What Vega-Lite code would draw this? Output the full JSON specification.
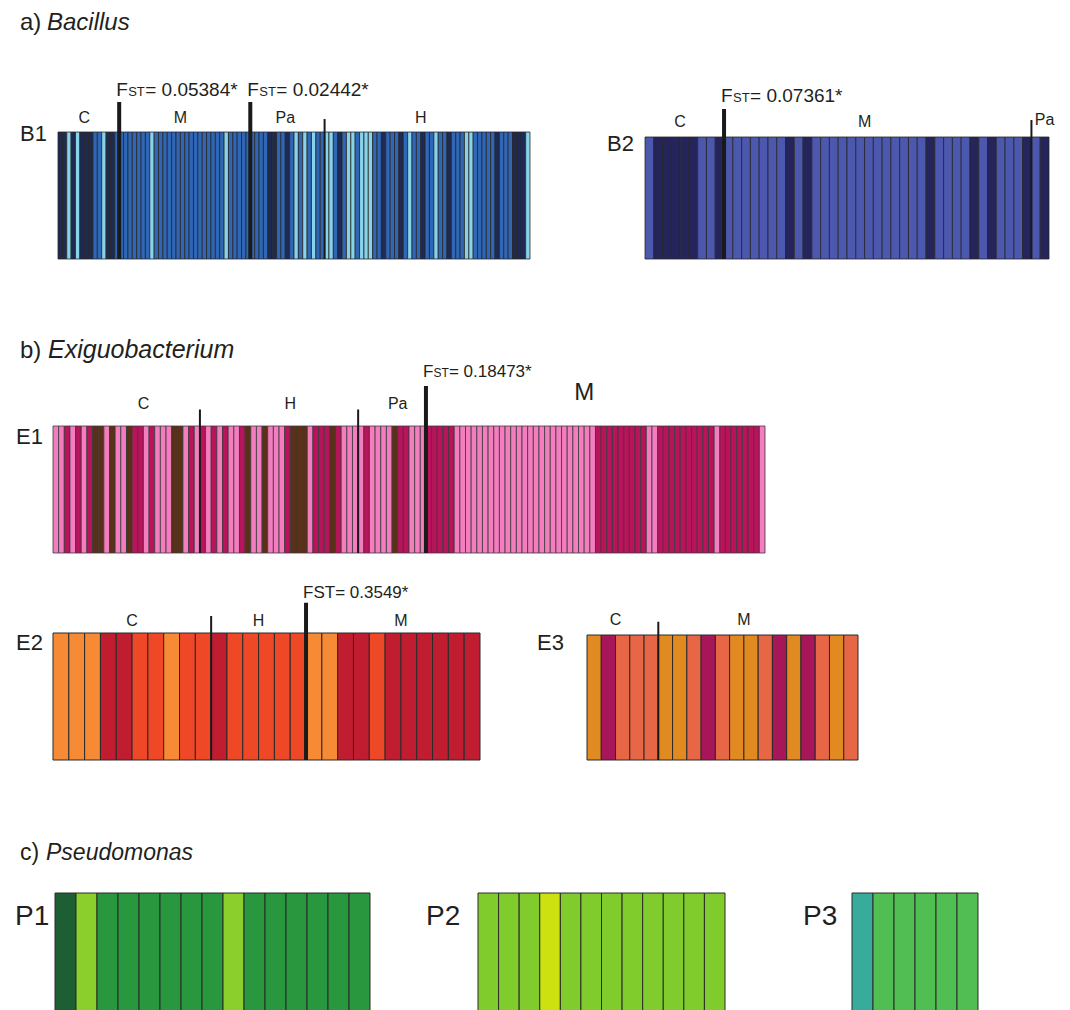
{
"$schema": "https://vega.github.io/schema/vega-lite/v6.json",
"width": 1070, "height": 1010, "padding": 0, "autosize": {"type": "none"},
"background": "white",
"config": {"view": {"stroke": null}, "text": {"font": "Liberation Sans", "fill": "#231f20"}},
"resolve": {"scale": {"x": "independent", "y": "independent", "color": "independent"}},
"layer": [
{
"layer": [
{"data": {"values": [
{"i":1,"k":"n"},{"i":2,"k":"n"},{"i":3,"k":"c"},{"i":4,"k":"n"},{"i":5,"k":"c"},{"i":6,"k":"n"},{"i":7,"k":"n"},{"i":8,"k":"n"},{"i":9,"k":"m"},{"i":10,"k":"m"},{"i":11,"k":"c"},{"i":12,"k":"n"},{"i":13,"k":"n"},{"i":14,"k":"m"},
{"i":15,"k":"m"},{"i":16,"k":"m"},{"i":17,"k":"m"},{"i":18,"k":"m"},{"i":19,"k":"m"},{"i":20,"k":"m"},{"i":21,"k":"m"},{"i":22,"k":"c"},{"i":23,"k":"m"},{"i":24,"k":"m"},{"i":25,"k":"m"},{"i":26,"k":"m"},{"i":27,"k":"m"},{"i":28,"k":"m"},{"i":29,"k":"m"},{"i":30,"k":"m"},{"i":31,"k":"m"},{"i":32,"k":"m"},{"i":33,"k":"m"},{"i":34,"k":"m"},{"i":35,"k":"m"},{"i":36,"k":"m"},{"i":37,"k":"m"},{"i":38,"k":"m"},{"i":39,"k":"c"},{"i":40,"k":"m"},{"i":41,"k":"m"},{"i":42,"k":"m"},{"i":43,"k":"m"},{"i":44,"k":"m"},
{"i":45,"k":"m"},{"i":46,"k":"m"},{"i":47,"k":"m"},{"i":48,"k":"m"},{"i":49,"k":"n"},{"i":50,"k":"n"},{"i":51,"k":"m"},{"i":52,"k":"m"},{"i":53,"k":"n"},{"i":54,"k":"m"},{"i":55,"k":"c"},{"i":56,"k":"m"},{"i":57,"k":"c"},{"i":58,"k":"m"},{"i":59,"k":"c"},{"i":60,"k":"m"},{"i":61,"k":"m"},
{"i":62,"k":"c"},{"i":63,"k":"c"},{"i":64,"k":"m"},{"i":65,"k":"n"},{"i":66,"k":"m"},{"i":67,"k":"c"},{"i":68,"k":"c"},{"i":69,"k":"m"},{"i":70,"k":"c"},{"i":71,"k":"c"},{"i":72,"k":"c"},{"i":73,"k":"m"},{"i":74,"k":"m"},{"i":75,"k":"n"},{"i":76,"k":"m"},{"i":77,"k":"m"},{"i":78,"k":"m"},{"i":79,"k":"n"},{"i":80,"k":"m"},{"i":81,"k":"c"},{"i":82,"k":"m"},{"i":83,"k":"m"},{"i":84,"k":"n"},{"i":85,"k":"m"},{"i":86,"k":"m"},{"i":87,"k":"c"},{"i":88,"k":"m"},{"i":89,"k":"m"},{"i":90,"k":"n"},{"i":91,"k":"m"},{"i":92,"k":"m"},{"i":93,"k":"m"},{"i":94,"k":"c"},{"i":95,"k":"c"},{"i":96,"k":"m"},{"i":97,"k":"m"},{"i":98,"k":"m"},{"i":99,"k":"m"},{"i":100,"k":"m"},{"i":101,"k":"n"},{"i":102,"k":"m"},{"i":103,"k":"m"},{"i":104,"k":"m"},{"i":105,"k":"n"},{"i":106,"k":"n"},{"i":107,"k":"n"},{"i":108,"k":"c"}
]},
"mark": {"type": "bar", "stroke": "#262626", "strokeWidth": 0.8},
"encoding": {
"x": {"field": "i", "type": "ordinal", "axis": null, "scale": {"range": [58, 530], "paddingInner": 0, "paddingOuter": 0}},
"y": {"datum": 1, "type": "quantitative", "axis": null, "scale": {"domain": [0, 1], "range": [259, 132], "nice": false, "zero": false}},
"y2": {"datum": 0},
"color": {"field": "k", "type": "nominal", "legend": null, "scale": {"domain": ["n", "m", "c"], "range": ["#1e2a52", "#2f67b6", "#87d3ea"]}}
}},
{"data": {"values": [{"i":14},{"i":44}]},
"mark": {"type": "rule", "strokeWidth": 4, "color": "#1a1a1a"},
"encoding": {
"x": {"field": "i", "type": "ordinal", "bandPosition": 1, "axis": null, "scale": {"range": [58, 530], "paddingInner": 0, "paddingOuter": 0}},
"y": {"datum": 0, "type": "quantitative", "axis": null, "scale": {"domain": [0, 1], "range": [259, 132], "nice": false, "zero": false}},
"y2": {"datum": 1.236}
}},
{"data": {"values": [{"i":61}]},
"mark": {"type": "rule", "strokeWidth": 2, "color": "#1a1a1a"},
"encoding": {
"x": {"field": "i", "type": "ordinal", "bandPosition": 1, "axis": null, "scale": {"range": [58, 530], "paddingInner": 0, "paddingOuter": 0}},
"y": {"datum": 0, "type": "quantitative", "axis": null, "scale": {"domain": [0, 1], "range": [259, 132], "nice": false, "zero": false}},
"y2": {"datum": 1.102}
}},
{"data": {"values": [{"i":6,"t":"C"},{"i":28,"t":"M"},{"i":52,"t":"Pa"},{"i":83,"t":"H"}]},
"mark": {"type": "text", "fontSize": 16, "align": "center", "baseline": "alphabetic"},
"encoding": {
"x": {"field": "i", "type": "ordinal", "bandPosition": 1, "axis": null, "scale": {"range": [58, 530], "paddingInner": 0, "paddingOuter": 0}},
"y": {"datum": 1.07, "type": "quantitative", "axis": null, "scale": {"domain": [0, 1], "range": [259, 132], "nice": false, "zero": false}},
"text": {"field": "t"}
}},
{"data": {"values": [{"i":14,"v":"= 0.05384*"},{"i":44,"v":"= 0.02442*"}]},
"encoding": {
"x": {"field": "i", "type": "ordinal", "bandPosition": 1, "axis": null, "scale": {"range": [58, 530], "paddingInner": 0, "paddingOuter": 0}},
"y": {"datum": 1.283, "type": "quantitative", "axis": null, "scale": {"domain": [0, 1], "range": [259, 132], "nice": false, "zero": false}}
},
"layer": [
{"mark": {"type": "text", "text": "F", "fontSize": 19, "align": "left", "baseline": "alphabetic", "dx": -3}},
{"mark": {"type": "text", "text": "ST", "fontSize": 13, "align": "left", "baseline": "alphabetic", "dx": 9}},
{"mark": {"type": "text", "fontSize": 19, "align": "left", "baseline": "alphabetic", "dx": 26}, "encoding": {"text": {"field": "v"}}}
]},
{"data": {"values": [{"t":"B1"}]},
"mark": {"type": "text", "fontSize": 22, "align": "left", "baseline": "alphabetic", "dx": -38},
"encoding": {
"x": {"datum": 1, "type": "ordinal", "bandPosition": 0, "axis": null, "scale": {"range": [58, 530], "paddingInner": 0, "paddingOuter": 0}},
"y": {"datum": 0.929, "type": "quantitative", "axis": null, "scale": {"domain": [0, 1], "range": [259, 132], "nice": false, "zero": false}},
"text": {"field": "t"}
}},
{"data": {"values": [{"t":"a)"}]},
"mark": {"type": "text", "fontSize": 24, "align": "left", "baseline": "alphabetic", "dx": -38},
"encoding": {
"x": {"datum": 1, "type": "ordinal", "bandPosition": 0, "axis": null, "scale": {"range": [58, 530], "paddingInner": 0, "paddingOuter": 0}},
"y": {"datum": 1.803, "type": "quantitative", "axis": null, "scale": {"domain": [0, 1], "range": [259, 132], "nice": false, "zero": false}},
"text": {"field": "t"}
}},
{"data": {"values": [{"t":"Bacillus"}]},
"mark": {"type": "text", "fontSize": 24, "fontStyle": "italic", "align": "left", "baseline": "alphabetic", "dx": -11},
"encoding": {
"x": {"datum": 1, "type": "ordinal", "bandPosition": 0, "axis": null, "scale": {"range": [58, 530], "paddingInner": 0, "paddingOuter": 0}},
"y": {"datum": 1.803, "type": "quantitative", "axis": null, "scale": {"domain": [0, 1], "range": [259, 132], "nice": false, "zero": false}},
"text": {"field": "t"}
}}
]
},
{
"layer": [
{"data": {"values": [
{"i":1,"k":"b"},{"i":2,"k":"d"},{"i":3,"k":"d"},{"i":4,"k":"d"},{"i":5,"k":"d"},{"i":6,"k":"d"},{"i":7,"k":"b"},{"i":8,"k":"b"},{"i":9,"k":"d"},
{"i":10,"k":"b"},{"i":11,"k":"b"},{"i":12,"k":"b"},{"i":13,"k":"b"},{"i":14,"k":"b"},{"i":15,"k":"b"},{"i":16,"k":"b"},{"i":17,"k":"d"},{"i":18,"k":"b"},{"i":19,"k":"d"},
{"i":20,"k":"b"},{"i":21,"k":"b"},{"i":22,"k":"b"},{"i":23,"k":"b"},{"i":24,"k":"b"},{"i":25,"k":"b"},{"i":26,"k":"b"},{"i":27,"k":"b"},{"i":28,"k":"b"},{"i":29,"k":"b"},{"i":30,"k":"b"},{"i":31,"k":"b"},{"i":32,"k":"b"},{"i":33,"k":"d"},
{"i":34,"k":"b"},{"i":35,"k":"b"},{"i":36,"k":"b"},{"i":37,"k":"b"},{"i":38,"k":"d"},{"i":39,"k":"b"},{"i":40,"k":"d"},{"i":41,"k":"b"},{"i":42,"k":"b"},{"i":43,"k":"b"},{"i":44,"k":"d"},{"i":45,"k":"b"},{"i":46,"k":"d"}
]},
"mark": {"type": "bar", "stroke": "#262626", "strokeWidth": 0.8},
"encoding": {
"x": {"field": "i", "type": "ordinal", "axis": null, "scale": {"range": [645, 1049], "paddingInner": 0, "paddingOuter": 0}},
"y": {"datum": 1, "type": "quantitative", "axis": null, "scale": {"domain": [0, 1], "range": [259, 137], "nice": false, "zero": false}},
"y2": {"datum": 0},
"color": {"field": "k", "type": "nominal", "legend": null, "scale": {"domain": ["b", "d"], "range": ["#4c57ae", "#25255c"]}}
}},
{"data": {"values": [{"i":9}]},
"mark": {"type": "rule", "strokeWidth": 4, "color": "#1a1a1a"},
"encoding": {
"x": {"field": "i", "type": "ordinal", "bandPosition": 1, "axis": null, "scale": {"range": [645, 1049], "paddingInner": 0, "paddingOuter": 0}},
"y": {"datum": 0, "type": "quantitative", "axis": null, "scale": {"domain": [0, 1], "range": [259, 137], "nice": false, "zero": false}},
"y2": {"datum": 1.229}
}},
{"data": {"values": [{"i":44}]},
"mark": {"type": "rule", "strokeWidth": 2, "color": "#1a1a1a"},
"encoding": {
"x": {"field": "i", "type": "ordinal", "bandPosition": 1, "axis": null, "scale": {"range": [645, 1049], "paddingInner": 0, "paddingOuter": 0}},
"y": {"datum": 0, "type": "quantitative", "axis": null, "scale": {"domain": [0, 1], "range": [259, 137], "nice": false, "zero": false}},
"y2": {"datum": 1.139}
}},
{"data": {"values": [{"i":4,"t":"C"},{"i":25,"t":"M"}]},
"mark": {"type": "text", "fontSize": 16, "align": "center", "baseline": "alphabetic"},
"encoding": {
"x": {"field": "i", "type": "ordinal", "bandPosition": 1, "axis": null, "scale": {"range": [645, 1049], "paddingInner": 0, "paddingOuter": 0}},
"y": {"datum": 1.085, "type": "quantitative", "axis": null, "scale": {"domain": [0, 1], "range": [259, 137], "nice": false, "zero": false}},
"text": {"field": "t"}
}},
{"data": {"values": [{"i":46,"t":"Pa"}]},
"mark": {"type": "text", "fontSize": 16, "align": "center", "baseline": "alphabetic"},
"encoding": {
"x": {"field": "i", "type": "ordinal", "bandPosition": 0.5, "axis": null, "scale": {"range": [645, 1049], "paddingInner": 0, "paddingOuter": 0}},
"y": {"datum": 1.1, "type": "quantitative", "axis": null, "scale": {"domain": [0, 1], "range": [259, 137], "nice": false, "zero": false}},
"text": {"field": "t"}
}},
{"data": {"values": [{"i":9,"v":"= 0.07361*"}]},
"encoding": {
"x": {"field": "i", "type": "ordinal", "bandPosition": 1, "axis": null, "scale": {"range": [645, 1049], "paddingInner": 0, "paddingOuter": 0}},
"y": {"datum": 1.287, "type": "quantitative", "axis": null, "scale": {"domain": [0, 1], "range": [259, 137], "nice": false, "zero": false}}
},
"layer": [
{"mark": {"type": "text", "text": "F", "fontSize": 19, "align": "left", "baseline": "alphabetic", "dx": -3}},
{"mark": {"type": "text", "text": "ST", "fontSize": 13, "align": "left", "baseline": "alphabetic", "dx": 9}},
{"mark": {"type": "text", "fontSize": 19, "align": "left", "baseline": "alphabetic", "dx": 26}, "encoding": {"text": {"field": "v"}}}
]},
{"data": {"values": [{"t":"B2"}]},
"mark": {"type": "text", "fontSize": 22, "align": "left", "baseline": "alphabetic", "dx": -38},
"encoding": {
"x": {"datum": 1, "type": "ordinal", "bandPosition": 0, "axis": null, "scale": {"range": [645, 1049], "paddingInner": 0, "paddingOuter": 0}},
"y": {"datum": 0.885, "type": "quantitative", "axis": null, "scale": {"domain": [0, 1], "range": [259, 137], "nice": false, "zero": false}},
"text": {"field": "t"}
}}
]
},
{
"layer": [
{"data": {"values": [
{"i":1,"k":"p"},{"i":2,"k":"p"},{"i":3,"k":"g"},{"i":4,"k":"p"},{"i":5,"k":"g"},{"i":6,"k":"p"},{"i":7,"k":"g"},{"i":8,"k":"b"},{"i":9,"k":"b"},{"i":10,"k":"p"},{"i":11,"k":"b"},{"i":12,"k":"p"},{"i":13,"k":"p"},{"i":14,"k":"b"},{"i":15,"k":"g"},{"i":16,"k":"g"},{"i":17,"k":"p"},{"i":18,"k":"g"},{"i":19,"k":"p"},{"i":20,"k":"p"},{"i":21,"k":"p"},{"i":22,"k":"b"},{"i":23,"k":"b"},{"i":24,"k":"p"},{"i":25,"k":"g"},{"i":26,"k":"p"},
{"i":27,"k":"g"},{"i":28,"k":"p"},{"i":29,"k":"g"},{"i":30,"k":"p"},{"i":31,"k":"g"},{"i":32,"k":"p"},{"i":33,"k":"p"},{"i":34,"k":"g"},{"i":35,"k":"b"},{"i":36,"k":"p"},{"i":37,"k":"p"},{"i":38,"k":"b"},{"i":39,"k":"p"},{"i":40,"k":"p"},{"i":41,"k":"p"},{"i":42,"k":"g"},{"i":43,"k":"b"},{"i":44,"k":"b"},{"i":45,"k":"b"},{"i":46,"k":"p"},{"i":47,"k":"g"},{"i":48,"k":"g"},{"i":49,"k":"g"},{"i":50,"k":"b"},{"i":51,"k":"g"},{"i":52,"k":"p"},{"i":53,"k":"p"},{"i":54,"k":"p"},
{"i":55,"k":"p"},{"i":56,"k":"g"},{"i":57,"k":"p"},{"i":58,"k":"p"},{"i":59,"k":"p"},{"i":60,"k":"p"},{"i":61,"k":"b"},{"i":62,"k":"g"},{"i":63,"k":"g"},{"i":64,"k":"p"},{"i":65,"k":"p"},{"i":66,"k":"p"},
{"i":67,"k":"g"},{"i":68,"k":"g"},{"i":69,"k":"g"},{"i":70,"k":"g"},{"i":71,"k":"g"},
{"i":72,"k":"p"},{"i":73,"k":"p"},{"i":74,"k":"p"},{"i":75,"k":"p"},{"i":76,"k":"p"},{"i":77,"k":"p"},{"i":78,"k":"p"},{"i":79,"k":"p"},{"i":80,"k":"p"},{"i":81,"k":"p"},{"i":82,"k":"p"},{"i":83,"k":"p"},{"i":84,"k":"p"},{"i":85,"k":"p"},{"i":86,"k":"p"},{"i":87,"k":"p"},{"i":88,"k":"p"},{"i":89,"k":"p"},{"i":90,"k":"p"},{"i":91,"k":"p"},{"i":92,"k":"p"},{"i":93,"k":"p"},{"i":94,"k":"p"},{"i":95,"k":"p"},{"i":96,"k":"p"},
{"i":97,"k":"g"},{"i":98,"k":"g"},{"i":99,"k":"g"},{"i":100,"k":"g"},{"i":101,"k":"g"},{"i":102,"k":"g"},{"i":103,"k":"g"},{"i":104,"k":"g"},{"i":105,"k":"g"},
{"i":106,"k":"p"},{"i":107,"k":"p"},
{"i":108,"k":"g"},{"i":109,"k":"g"},{"i":110,"k":"g"},{"i":111,"k":"g"},{"i":112,"k":"g"},{"i":113,"k":"g"},{"i":114,"k":"g"},{"i":115,"k":"g"},{"i":116,"k":"g"},{"i":117,"k":"g"},
{"i":118,"k":"p"},
{"i":119,"k":"g"},{"i":120,"k":"g"},{"i":121,"k":"g"},{"i":122,"k":"g"},{"i":123,"k":"g"},{"i":124,"k":"g"},{"i":125,"k":"g"},
{"i":126,"k":"p"}
]},
"mark": {"type": "bar", "stroke": "#3a3a3a", "strokeWidth": 0.8},
"encoding": {
"x": {"field": "i", "type": "ordinal", "axis": null, "scale": {"range": [53, 765], "paddingInner": 0, "paddingOuter": 0}},
"y": {"datum": 1, "type": "quantitative", "axis": null, "scale": {"domain": [0, 1], "range": [553, 426], "nice": false, "zero": false}},
"y2": {"datum": 0},
"color": {"field": "k", "type": "nominal", "legend": null, "scale": {"domain": ["p", "g", "b"], "range": ["#f37dbf", "#b8135b", "#5a3118"]}}
}},
{"data": {"values": [{"i":66}]},
"mark": {"type": "rule", "strokeWidth": 4, "color": "#1a1a1a"},
"encoding": {
"x": {"field": "i", "type": "ordinal", "bandPosition": 1, "axis": null, "scale": {"range": [53, 765], "paddingInner": 0, "paddingOuter": 0}},
"y": {"datum": 0, "type": "quantitative", "axis": null, "scale": {"domain": [0, 1], "range": [553, 426], "nice": false, "zero": false}},
"y2": {"datum": 1.315}
}},
{"data": {"values": [{"i":26},{"i":54}]},
"mark": {"type": "rule", "strokeWidth": 2, "color": "#1a1a1a"},
"encoding": {
"x": {"field": "i", "type": "ordinal", "bandPosition": 1, "axis": null, "scale": {"range": [53, 765], "paddingInner": 0, "paddingOuter": 0}},
"y": {"datum": 0, "type": "quantitative", "axis": null, "scale": {"domain": [0, 1], "range": [553, 426], "nice": false, "zero": false}},
"y2": {"datum": 1.13}
}},
{"data": {"values": [{"i":16,"t":"C"},{"i":42,"t":"H"},{"i":61,"t":"Pa"}]},
"mark": {"type": "text", "fontSize": 16, "align": "center", "baseline": "alphabetic"},
"encoding": {
"x": {"field": "i", "type": "ordinal", "bandPosition": 1, "axis": null, "scale": {"range": [53, 765], "paddingInner": 0, "paddingOuter": 0}},
"y": {"datum": 1.13, "type": "quantitative", "axis": null, "scale": {"domain": [0, 1], "range": [553, 426], "nice": false, "zero": false}},
"text": {"field": "t"}
}},
{"data": {"values": [{"i":94,"t":"M"}]},
"mark": {"type": "text", "fontSize": 24, "align": "center", "baseline": "alphabetic"},
"encoding": {
"x": {"field": "i", "type": "ordinal", "bandPosition": 1, "axis": null, "scale": {"range": [53, 765], "paddingInner": 0, "paddingOuter": 0}},
"y": {"datum": 1.205, "type": "quantitative", "axis": null, "scale": {"domain": [0, 1], "range": [553, 426], "nice": false, "zero": false}},
"text": {"field": "t"}
}},
{"data": {"values": [{"i":66,"v":"= 0.18473*"}]},
"encoding": {
"x": {"field": "i", "type": "ordinal", "bandPosition": 1, "axis": null, "scale": {"range": [53, 765], "paddingInner": 0, "paddingOuter": 0}},
"y": {"datum": 1.386, "type": "quantitative", "axis": null, "scale": {"domain": [0, 1], "range": [553, 426], "nice": false, "zero": false}}
},
"layer": [
{"mark": {"type": "text", "text": "F", "fontSize": 17, "align": "left", "baseline": "alphabetic", "dx": -3}},
{"mark": {"type": "text", "text": "ST", "fontSize": 12, "align": "left", "baseline": "alphabetic", "dx": 7.5}},
{"mark": {"type": "text", "fontSize": 17, "align": "left", "baseline": "alphabetic", "dx": 23}, "encoding": {"text": {"field": "v"}}}
]},
{"data": {"values": [{"t":"E1"}]},
"mark": {"type": "text", "fontSize": 22, "align": "left", "baseline": "alphabetic", "dx": -37},
"encoding": {
"x": {"datum": 1, "type": "ordinal", "bandPosition": 0, "axis": null, "scale": {"range": [53, 765], "paddingInner": 0, "paddingOuter": 0}},
"y": {"datum": 0.858, "type": "quantitative", "axis": null, "scale": {"domain": [0, 1], "range": [553, 426], "nice": false, "zero": false}},
"text": {"field": "t"}
}},
{"data": {"values": [{"t":"b)"}]},
"mark": {"type": "text", "fontSize": 24, "align": "left", "baseline": "alphabetic", "dx": -33},
"encoding": {
"x": {"datum": 1, "type": "ordinal", "bandPosition": 0, "axis": null, "scale": {"range": [53, 765], "paddingInner": 0, "paddingOuter": 0}},
"y": {"datum": 1.535, "type": "quantitative", "axis": null, "scale": {"domain": [0, 1], "range": [553, 426], "nice": false, "zero": false}},
"text": {"field": "t"}
}},
{"data": {"values": [{"t":"Exiguobacterium"}]},
"mark": {"type": "text", "fontSize": 25, "fontStyle": "italic", "align": "left", "baseline": "alphabetic", "dx": -5},
"encoding": {
"x": {"datum": 1, "type": "ordinal", "bandPosition": 0, "axis": null, "scale": {"range": [53, 765], "paddingInner": 0, "paddingOuter": 0}},
"y": {"datum": 1.535, "type": "quantitative", "axis": null, "scale": {"domain": [0, 1], "range": [553, 426], "nice": false, "zero": false}},
"text": {"field": "t"}
}}
]
},
{
"layer": [
{"data": {"values": [
{"i":1,"k":"o"},{"i":2,"k":"o"},{"i":3,"k":"o"},{"i":4,"k":"r"},{"i":5,"k":"r"},{"i":6,"k":"s"},{"i":7,"k":"s"},{"i":8,"k":"o"},{"i":9,"k":"s"},{"i":10,"k":"s"},
{"i":11,"k":"r"},{"i":12,"k":"s"},{"i":13,"k":"s"},{"i":14,"k":"s"},{"i":15,"k":"s"},{"i":16,"k":"s"},
{"i":17,"k":"o"},{"i":18,"k":"o"},{"i":19,"k":"r"},{"i":20,"k":"r"},{"i":21,"k":"s"},{"i":22,"k":"r"},{"i":23,"k":"r"},{"i":24,"k":"r"},{"i":25,"k":"r"},{"i":26,"k":"r"},{"i":27,"k":"r"}
]},
"mark": {"type": "bar", "stroke": "#2a2a2a", "strokeWidth": 1},
"encoding": {
"x": {"field": "i", "type": "ordinal", "axis": null, "scale": {"range": [53, 480], "paddingInner": 0, "paddingOuter": 0}},
"y": {"datum": 1, "type": "quantitative", "axis": null, "scale": {"domain": [0, 1], "range": [760, 633], "nice": false, "zero": false}},
"y2": {"datum": 0},
"color": {"field": "k", "type": "nominal", "legend": null, "scale": {"domain": ["o", "r", "s"], "range": ["#f68a35", "#c01d30", "#ee4826"]}}
}},
{"data": {"values": [{"i":16}]},
"mark": {"type": "rule", "strokeWidth": 4, "color": "#1a1a1a"},
"encoding": {
"x": {"field": "i", "type": "ordinal", "bandPosition": 1, "axis": null, "scale": {"range": [53, 480], "paddingInner": 0, "paddingOuter": 0}},
"y": {"datum": 0, "type": "quantitative", "axis": null, "scale": {"domain": [0, 1], "range": [760, 633], "nice": false, "zero": false}},
"y2": {"datum": 1.238}
}},
{"data": {"values": [{"i":10}]},
"mark": {"type": "rule", "strokeWidth": 2, "color": "#1a1a1a"},
"encoding": {
"x": {"field": "i", "type": "ordinal", "bandPosition": 1, "axis": null, "scale": {"range": [53, 480], "paddingInner": 0, "paddingOuter": 0}},
"y": {"datum": 0, "type": "quantitative", "axis": null, "scale": {"domain": [0, 1], "range": [760, 633], "nice": false, "zero": false}},
"y2": {"datum": 1.134}
}},
{"data": {"values": [{"i":5,"t":"C"},{"i":13,"t":"H"},{"i":22,"t":"M"}]},
"mark": {"type": "text", "fontSize": 16, "align": "center", "baseline": "alphabetic"},
"encoding": {
"x": {"field": "i", "type": "ordinal", "bandPosition": 1, "axis": null, "scale": {"range": [53, 480], "paddingInner": 0, "paddingOuter": 0}},
"y": {"datum": 1.055, "type": "quantitative", "axis": null, "scale": {"domain": [0, 1], "range": [760, 633], "nice": false, "zero": false}},
"text": {"field": "t"}
}},
{"data": {"values": [{"i":16,"t":"FST= 0.3549*"}]},
"mark": {"type": "text", "fontSize": 17, "align": "left", "baseline": "alphabetic", "dx": -3},
"encoding": {
"x": {"field": "i", "type": "ordinal", "bandPosition": 1, "axis": null, "scale": {"range": [53, 480], "paddingInner": 0, "paddingOuter": 0}},
"y": {"datum": 1.276, "type": "quantitative", "axis": null, "scale": {"domain": [0, 1], "range": [760, 633], "nice": false, "zero": false}},
"text": {"field": "t"}
}},
{"data": {"values": [{"t":"E2"}]},
"mark": {"type": "text", "fontSize": 22, "align": "left", "baseline": "alphabetic", "dx": -37},
"encoding": {
"x": {"datum": 1, "type": "ordinal", "bandPosition": 0, "axis": null, "scale": {"range": [53, 480], "paddingInner": 0, "paddingOuter": 0}},
"y": {"datum": 0.866, "type": "quantitative", "axis": null, "scale": {"domain": [0, 1], "range": [760, 633], "nice": false, "zero": false}},
"text": {"field": "t"}
}}
]
},
{
"layer": [
{"data": {"values": [
{"i":1,"k":"o"},{"i":2,"k":"m"},{"i":3,"k":"s"},{"i":4,"k":"s"},{"i":5,"k":"s"},
{"i":6,"k":"o"},{"i":7,"k":"o"},{"i":8,"k":"s"},{"i":9,"k":"m"},{"i":10,"k":"s"},{"i":11,"k":"o"},{"i":12,"k":"o"},{"i":13,"k":"s"},{"i":14,"k":"m"},{"i":15,"k":"o"},{"i":16,"k":"m"},{"i":17,"k":"s"},{"i":18,"k":"o"},{"i":19,"k":"s"}
]},
"mark": {"type": "bar", "stroke": "#2a2a2a", "strokeWidth": 1},
"encoding": {
"x": {"field": "i", "type": "ordinal", "axis": null, "scale": {"range": [587, 858], "paddingInner": 0, "paddingOuter": 0}},
"y": {"datum": 1, "type": "quantitative", "axis": null, "scale": {"domain": [0, 1], "range": [760, 635], "nice": false, "zero": false}},
"y2": {"datum": 0},
"color": {"field": "k", "type": "nominal", "legend": null, "scale": {"domain": ["o", "m", "s"], "range": ["#e28a22", "#a8165a", "#e76646"]}}
}},
{"data": {"values": [{"i":5}]},
"mark": {"type": "rule", "strokeWidth": 2, "color": "#1a1a1a"},
"encoding": {
"x": {"field": "i", "type": "ordinal", "bandPosition": 1, "axis": null, "scale": {"range": [587, 858], "paddingInner": 0, "paddingOuter": 0}},
"y": {"datum": 0, "type": "quantitative", "axis": null, "scale": {"domain": [0, 1], "range": [760, 635], "nice": false, "zero": false}},
"y2": {"datum": 1.106}
}},
{"data": {"values": [{"i":2,"t":"C"},{"i":11,"t":"M"}]},
"mark": {"type": "text", "fontSize": 16, "align": "center", "baseline": "alphabetic"},
"encoding": {
"x": {"field": "i", "type": "ordinal", "bandPosition": 1, "axis": null, "scale": {"range": [587, 858], "paddingInner": 0, "paddingOuter": 0}},
"y": {"datum": 1.08, "type": "quantitative", "axis": null, "scale": {"domain": [0, 1], "range": [760, 635], "nice": false, "zero": false}},
"text": {"field": "t"}
}},
{"data": {"values": [{"t":"E3"}]},
"mark": {"type": "text", "fontSize": 22, "align": "left", "baseline": "alphabetic", "dx": -50},
"encoding": {
"x": {"datum": 1, "type": "ordinal", "bandPosition": 0, "axis": null, "scale": {"range": [587, 858], "paddingInner": 0, "paddingOuter": 0}},
"y": {"datum": 0.88, "type": "quantitative", "axis": null, "scale": {"domain": [0, 1], "range": [760, 635], "nice": false, "zero": false}},
"text": {"field": "t"}
}}
]
},
{
"layer": [
{"data": {"values": [
{"i":1,"k":"d"},{"i":2,"k":"l"},{"i":3,"k":"g"},{"i":4,"k":"g"},{"i":5,"k":"g"},{"i":6,"k":"g"},{"i":7,"k":"g"},{"i":8,"k":"g"},{"i":9,"k":"l"},{"i":10,"k":"g"},{"i":11,"k":"g"},{"i":12,"k":"g"},{"i":13,"k":"g"},{"i":14,"k":"g"},{"i":15,"k":"g"}
]},
"mark": {"type": "bar", "stroke": "#2a2a2a", "strokeWidth": 1},
"encoding": {
"x": {"field": "i", "type": "ordinal", "axis": null, "scale": {"range": [55, 370], "paddingInner": 0, "paddingOuter": 0}},
"y": {"datum": 1, "type": "quantitative", "axis": null, "scale": {"domain": [0, 1], "range": [1015, 893], "nice": false, "zero": false}},
"y2": {"datum": 0},
"color": {"field": "k", "type": "nominal", "legend": null, "scale": {"domain": ["d", "l", "g"], "range": ["#1e5e34", "#8bcf2c", "#29973d"]}}
}},
{"data": {"values": [{"t":"P1"}]},
"mark": {"type": "text", "fontSize": 28, "align": "left", "baseline": "alphabetic", "dx": -40},
"encoding": {
"x": {"datum": 1, "type": "ordinal", "bandPosition": 0, "axis": null, "scale": {"range": [55, 370], "paddingInner": 0, "paddingOuter": 0}},
"y": {"datum": 0.738, "type": "quantitative", "axis": null, "scale": {"domain": [0, 1], "range": [1015, 893], "nice": false, "zero": false}},
"text": {"field": "t"}
}},
{"data": {"values": [{"t":"c)"}]},
"mark": {"type": "text", "fontSize": 23, "align": "left", "baseline": "alphabetic", "dx": -35},
"encoding": {
"x": {"datum": 1, "type": "ordinal", "bandPosition": 0, "axis": null, "scale": {"range": [55, 370], "paddingInner": 0, "paddingOuter": 0}},
"y": {"datum": 1.27, "type": "quantitative", "axis": null, "scale": {"domain": [0, 1], "range": [1015, 893], "nice": false, "zero": false}},
"text": {"field": "t"}
}},
{"data": {"values": [{"t":"Pseudomonas"}]},
"mark": {"type": "text", "fontSize": 23, "fontStyle": "italic", "align": "left", "baseline": "alphabetic", "dx": -9},
"encoding": {
"x": {"datum": 1, "type": "ordinal", "bandPosition": 0, "axis": null, "scale": {"range": [55, 370], "paddingInner": 0, "paddingOuter": 0}},
"y": {"datum": 1.27, "type": "quantitative", "axis": null, "scale": {"domain": [0, 1], "range": [1015, 893], "nice": false, "zero": false}},
"text": {"field": "t"}
}}
]
},
{
"layer": [
{"data": {"values": [
{"i":1,"k":"g"},{"i":2,"k":"g"},{"i":3,"k":"g"},{"i":4,"k":"y"},{"i":5,"k":"g"},{"i":6,"k":"g"},{"i":7,"k":"g"},{"i":8,"k":"g"},{"i":9,"k":"g"},{"i":10,"k":"g"},{"i":11,"k":"g"},{"i":12,"k":"g"}
]},
"mark": {"type": "bar", "stroke": "#2a2a2a", "strokeWidth": 1},
"encoding": {
"x": {"field": "i", "type": "ordinal", "axis": null, "scale": {"range": [478, 725], "paddingInner": 0, "paddingOuter": 0}},
"y": {"datum": 1, "type": "quantitative", "axis": null, "scale": {"domain": [0, 1], "range": [1015, 893], "nice": false, "zero": false}},
"y2": {"datum": 0},
"color": {"field": "k", "type": "nominal", "legend": null, "scale": {"domain": ["g", "y"], "range": ["#80cc2c", "#cce10f"]}}
}},
{"data": {"values": [{"t":"P2"}]},
"mark": {"type": "text", "fontSize": 28, "align": "left", "baseline": "alphabetic", "dx": -52},
"encoding": {
"x": {"datum": 1, "type": "ordinal", "bandPosition": 0, "axis": null, "scale": {"range": [478, 725], "paddingInner": 0, "paddingOuter": 0}},
"y": {"datum": 0.738, "type": "quantitative", "axis": null, "scale": {"domain": [0, 1], "range": [1015, 893], "nice": false, "zero": false}},
"text": {"field": "t"}
}}
]
},
{
"layer": [
{"data": {"values": [
{"i":1,"k":"t"},{"i":2,"k":"g"},{"i":3,"k":"g"},{"i":4,"k":"g"},{"i":5,"k":"g"},{"i":6,"k":"g"}
]},
"mark": {"type": "bar", "stroke": "#2a2a2a", "strokeWidth": 1},
"encoding": {
"x": {"field": "i", "type": "ordinal", "axis": null, "scale": {"range": [852, 978], "paddingInner": 0, "paddingOuter": 0}},
"y": {"datum": 1, "type": "quantitative", "axis": null, "scale": {"domain": [0, 1], "range": [1015, 893], "nice": false, "zero": false}},
"y2": {"datum": 0},
"color": {"field": "k", "type": "nominal", "legend": null, "scale": {"domain": ["t", "g"], "range": ["#38ab9a", "#51be53"]}}
}},
{"data": {"values": [{"t":"P3"}]},
"mark": {"type": "text", "fontSize": 28, "align": "left", "baseline": "alphabetic", "dx": -49},
"encoding": {
"x": {"datum": 1, "type": "ordinal", "bandPosition": 0, "axis": null, "scale": {"range": [852, 978], "paddingInner": 0, "paddingOuter": 0}},
"y": {"datum": 0.738, "type": "quantitative", "axis": null, "scale": {"domain": [0, 1], "range": [1015, 893], "nice": false, "zero": false}},
"text": {"field": "t"}
}}
]
}
]
}
